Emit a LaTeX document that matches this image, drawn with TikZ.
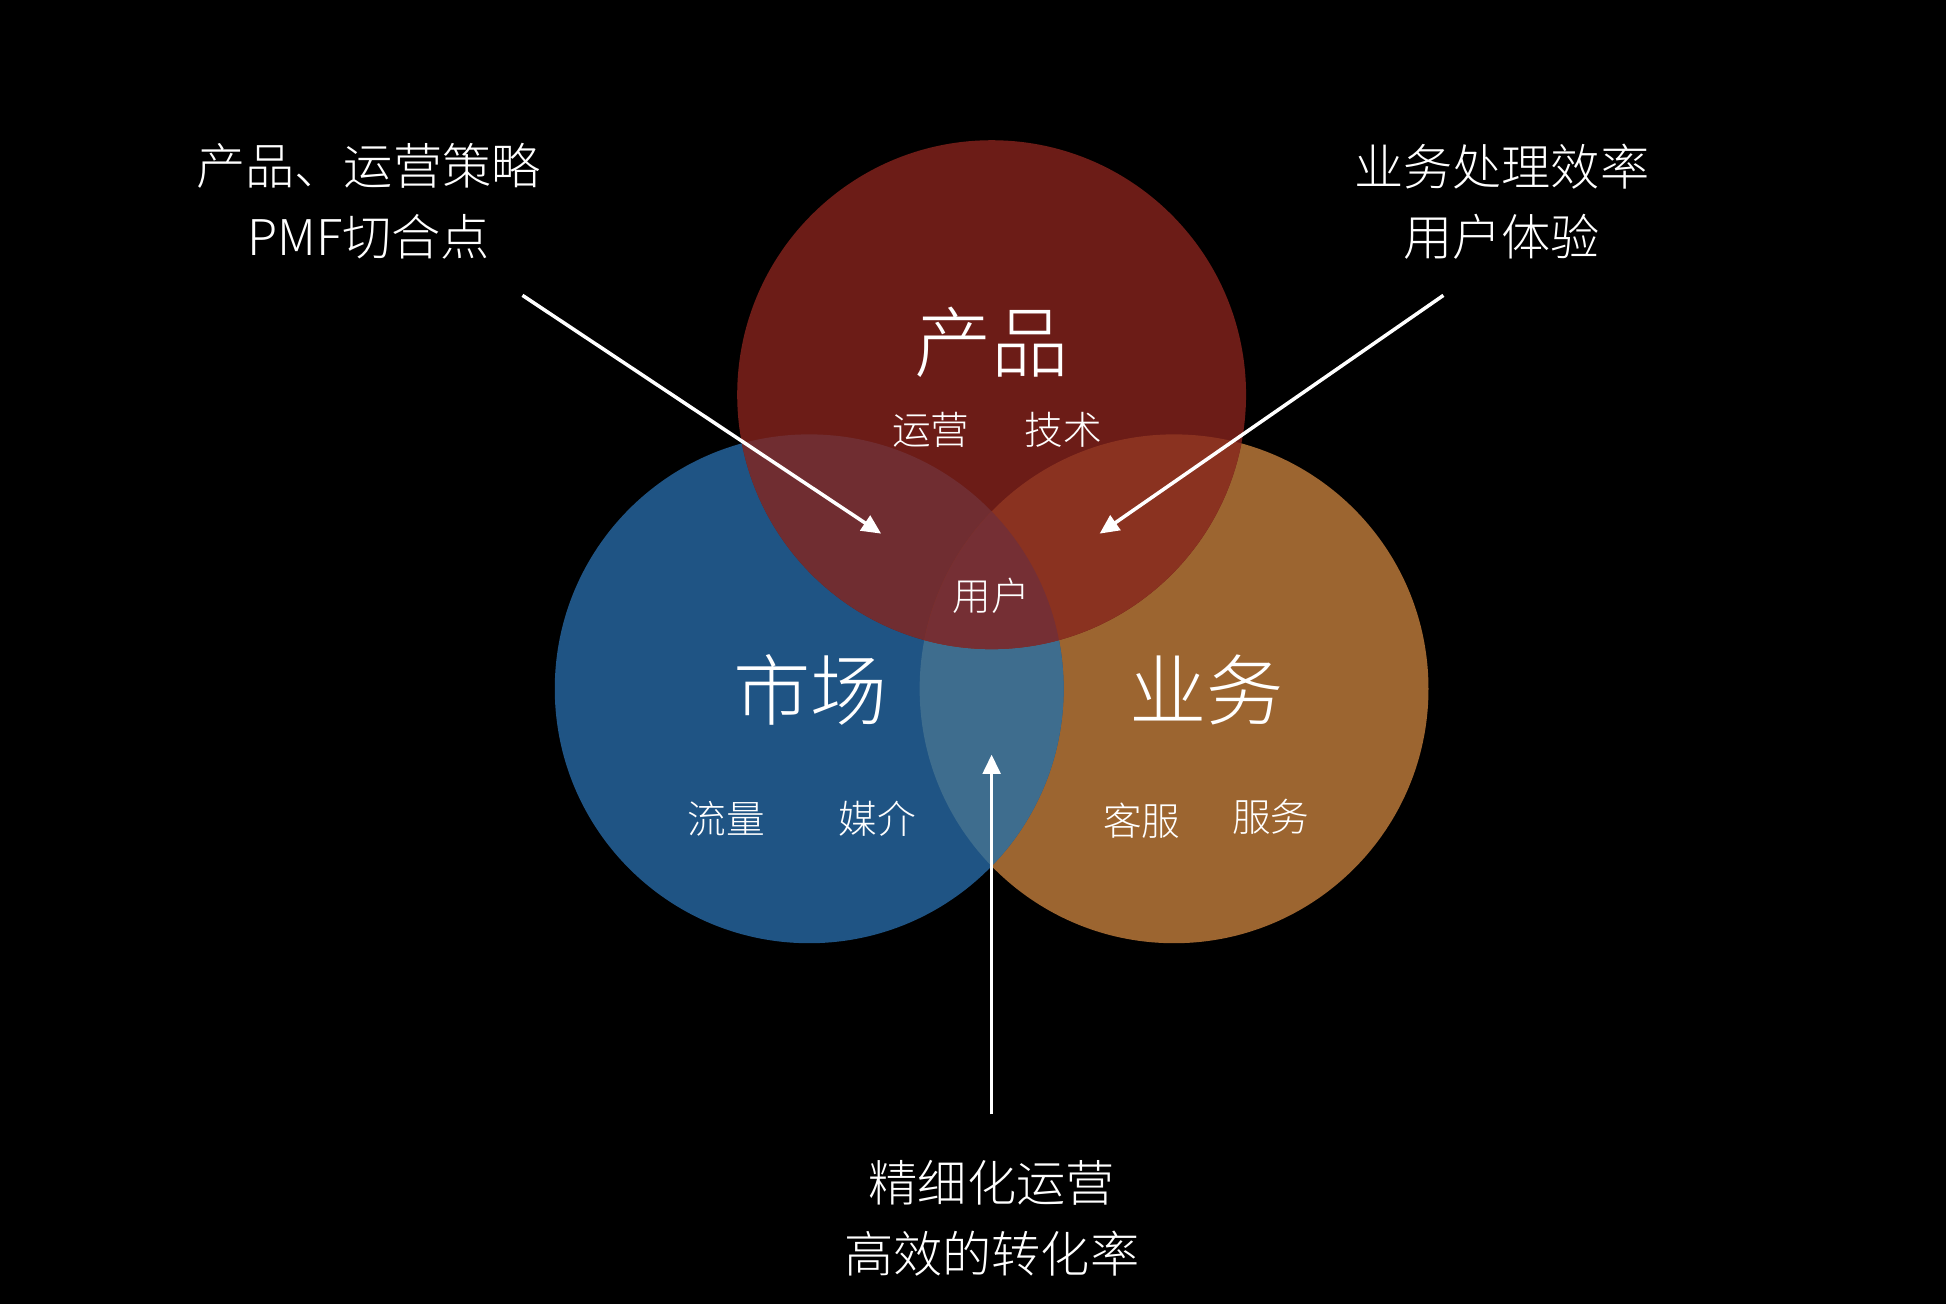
\documentclass[tikz,border=0pt]{standalone}
\usepackage{fontspec}
\setmainfont{Noto Sans CJK SC Light}
\usetikzlibrary{arrows.meta}
\definecolor{redc}{HTML}{6C1C17}
\definecolor{bluec}{HTML}{1F5484}
\definecolor{orangec}{HTML}{9C6530}
\definecolor{ovLR}{HTML}{3E6D8E}
\definecolor{ovTL}{HTML}{702D31}
\definecolor{ovTR}{HTML}{8A3220}
\definecolor{ovAll}{HTML}{752F34}
\tikzset{
  bigtxt/.style={text=white, inner sep=0pt, font=\fontsize{22pt}{26pt}\selectfont},
  smalltxt/.style={text=white, inner sep=0pt, font=\fontsize{11pt}{13pt}\selectfont},
  labeltxt/.style={text=white, inner sep=0pt, font=\fontsize{14pt}{17pt}\selectfont},
  arr/.style={draw=white, line width=1pt, -{Triangle[length=5.5pt,width=5pt]}},
}
\begin{document}
\begin{tikzpicture}[x=0.1241mm,y=-0.1241mm]
\useasboundingbox (0,0) rectangle (1568,1050.7);
\fill[black] (-5,-5) rectangle (1573,1056);
\coordinate (T) at (799,318);
\coordinate (L) at (652,555);
\coordinate (R) at (946,555);
\def\rad{25.44mm}
\fill[orangec] (R) circle[radius=\rad];
\fill[bluec] (L) circle[radius=\rad];
\fill[redc] (T) circle[radius=\rad];
\begin{scope}
  \clip (L) circle[radius=\rad];
  \fill[ovLR] (R) circle[radius=\rad];
\end{scope}
\begin{scope}
  \clip (T) circle[radius=\rad];
  \fill[ovTL] (L) circle[radius=\rad];
\end{scope}
\begin{scope}
  \clip (T) circle[radius=\rad];
  \fill[ovTR] (R) circle[radius=\rad];
\end{scope}
\begin{scope}
  \clip (T) circle[radius=\rad];
  \clip (L) circle[radius=\rad];
  \fill[ovAll] (R) circle[radius=\rad];
\end{scope}

% circle texts
\node[bigtxt] (chanpin) at (799,276) {产品};
\node[smalltxt] (yunying) at (750,346) {运营};
\node[smalltxt] (jishu) at (857,346) {技术};
\node[smalltxt] (yonghu) at (799,480) {用户};
\node[bigtxt] (shichang) at (653,556) {市场};
\node[bigtxt] (yewu) at (972,556) {业务};
\node[smalltxt] (liuliang) at (585,660) {流量};
\node[smalltxt] (meijie) at (707,660) {媒介};
\node[smalltxt] (kefu) at (920,661) {客服};
\node[smalltxt] (fuwu) at (1024,658) {服务};

% outer labels
\node[labeltxt] (l1a) at (297,134) {产品、运营策略};
\node[labeltxt] (l1b) at (297,191) {PMF切合点};
\node[labeltxt] (l2a) at (1210,134) {业务处理效率};
\node[labeltxt] (l2b) at (1210,191) {用户体验};
\node[labeltxt] (l3a) at (799,953) {精细化运营};
\node[labeltxt] (l3b) at (799,1010) {高效的转化率};

% arrows
\coordinate (a1s) at (421,238);
\coordinate (a1e) at (710,430);
\coordinate (a2s) at (1163,238);
\coordinate (a2e) at (886,430);
\coordinate (a3s) at (799,898);
\coordinate (a3e) at (799,608);
\draw[arr] (a1s) -- (a1e);
\draw[arr] (a2s) -- (a2e);
\draw[arr] (a3s) -- (a3e);
\end{tikzpicture}
\end{document}
